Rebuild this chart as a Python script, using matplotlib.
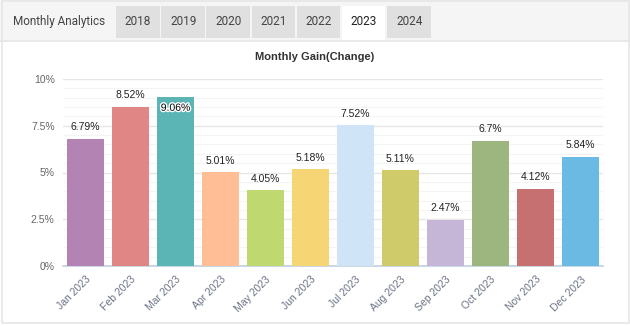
import matplotlib.pyplot as plt
from matplotlib.patches import Rectangle
import matplotlib.patheffects as pe
import numpy as np

# Monthly gain data (percent)
months = ['Jan 2023', 'Feb 2023', 'Mar 2023', 'Apr 2023', 'May 2023', 'Jun 2023',
          'Jul 2023', 'Aug 2023', 'Sep 2023', 'Oct 2023', 'Nov 2023', 'Dec 2023']
gains = [6.79, 8.52, 9.06, 5.01, 4.05, 5.18, 7.52, 5.11, 2.47, 6.7, 4.12, 5.84]
gain_labels = ['6.79%', '8.52%', '9.06%', '5.01%', '4.05%', '5.18%',
               '7.52%', '5.11%', '2.47%', '6.7%', '4.12%', '5.84%']
bar_colors = ['#b384b3', '#e08785', '#5bb5b5', '#ffbe96', '#bfd870', '#f5d574',
              '#cfe4f7', '#d0cb6a', '#c5b6d8', '#9db57e', '#c67071', '#6abae4']
tabs = ['2018', '2019', '2020', '2021', '2022', '2023', '2024']
active_tab = '2023'
y_ticks = [0, 2.5, 5, 7.5, 10]
y_tick_labels = ['0%', '2.5%', '5%', '7.5%', '10%']

W, H = 630, 326
fig = plt.figure(figsize=(W / 100, H / 100), dpi=100)

# Background / header drawn in pixel coordinates
bg = fig.add_axes([0, 0, 1, 1])
bg.set_xlim(0, W)
bg.set_ylim(H, 0)
bg.axis('off')
bg.add_patch(Rectangle((0, 0), W, 41, facecolor='#f5f5f5', edgecolor='none'))
bg.add_patch(Rectangle((1.5, 1), W - 3, H - 4, facecolor='none', edgecolor='#e6e6e6', lw=1.2))
bg.plot([0, W], [40.5, 40.5], color='#e6e6e6', lw=1.2)
bg.text(13, 21, 'Monthly Analytics', fontsize=8.5, family='Roboto', color='#444444',
        ha='left', va='center')
tab_x = 116
for t in tabs:
    face = 'white' if t == active_tab else '#e0e0e0'
    bg.add_patch(Rectangle((tab_x, 6), 43.5, 34.5 if t == active_tab else 32,
                           facecolor=face, edgecolor='none'))
    bg.text(tab_x + 22, 21.5, t, fontsize=8.5, family='Roboto',
            color='#222222' if t == active_tab else '#444444', ha='center', va='center')
    tab_x += 45.2

# Chart
ax = fig.add_axes([63 / W, 60 / H, 540 / W, 187 / H])
x = np.arange(len(months))
ax.bar(x, gains, width=0.82, color=bar_colors, zorder=3)
ax.set_xlim(-0.5, len(months) - 0.5)
ax.set_ylim(0, 10)

ax.set_yticks(y_ticks)
ax.set_yticklabels(y_tick_labels, fontsize=7.5, color='#666666', family='Liberation Sans')
ax.set_yticks(np.arange(0, 10.01, 0.5), minor=True)
ax.grid(axis='y', which='major', color='#e6e6e6', lw=1, zorder=0)
ax.grid(axis='y', which='minor', color='#f4f4f4', lw=0.8, zorder=0)
ax.tick_params(axis='y', which='both', length=0, pad=6)

ax.set_xticks(x)
ax.set_xticklabels(months, rotation=45, ha='right', rotation_mode='anchor',
                   fontsize=7.5, color='#6a7285', family='Liberation Sans')
ax.tick_params(axis='x', length=0, pad=6)

for s in ['top', 'right', 'left']:
    ax.spines[s].set_visible(False)
ax.spines['bottom'].set_color('#c0d0e0')
ax.spines['bottom'].set_linewidth(1.2)

for xi, g, lab in zip(x, gains, gain_labels):
    if g > 9:
        ax.text(xi, g - 0.6, lab, ha='center', va='center', fontsize=7.5,
                family='Liberation Sans', color='black', zorder=4,
                path_effects=[pe.withStroke(linewidth=2, foreground='white')])
    else:
        ax.text(xi, g + 0.62, lab, ha='center', va='center', fontsize=7.5,
                family='Liberation Sans', color='#222222', zorder=4)

fig.text(315 / W, 1 - 57 / H, 'Monthly Gain(Change)', ha='center', va='center',
         fontsize=8, fontweight='bold', color='#333333', family='Liberation Sans')

fig.savefig('out.png', dpi=100)
